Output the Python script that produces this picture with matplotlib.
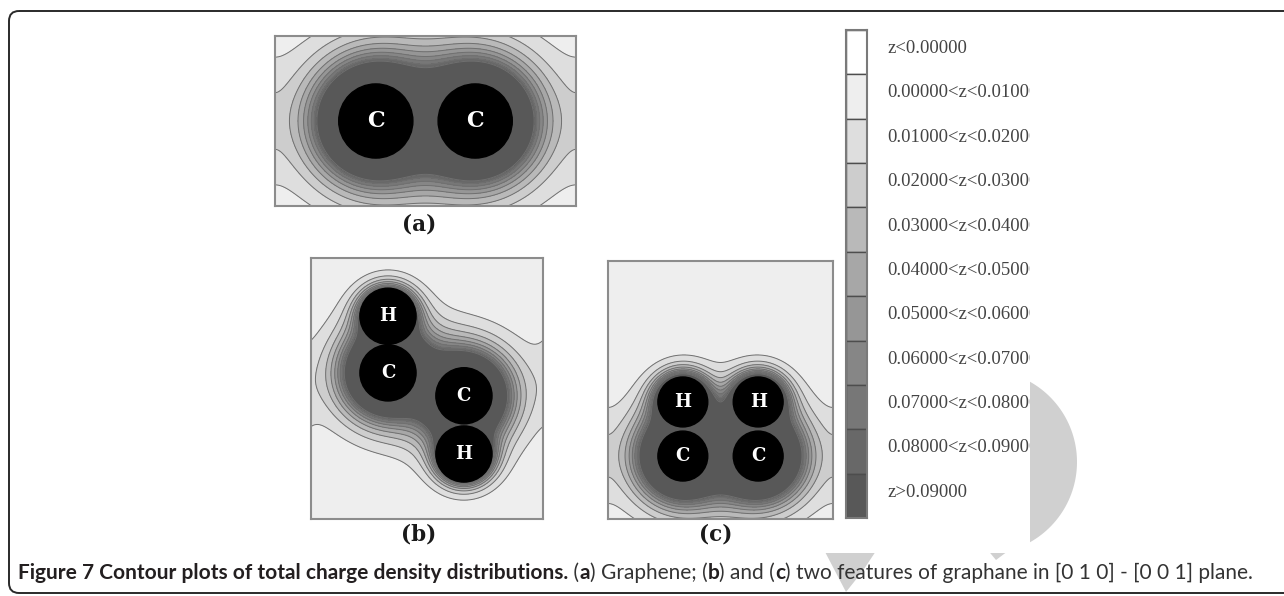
import numpy as np
import matplotlib.pyplot as plt
from matplotlib import font_manager
from matplotlib.patches import FancyBboxPatch, Rectangle, Circle, Polygon
from matplotlib.transforms import blended_transform_factory

W, H = 1284, 596
DPI = 100

# charge density bands (lower edges of the filled bands above the first)
band_levels = [0.00, 0.01, 0.02, 0.03, 0.04, 0.05, 0.06, 0.07, 0.08, 0.09]
band_labels = ["z<0.00000", "0.00000<z<0.01000", "0.01000<z<0.02000",
               "0.02000<z<0.03000", "0.03000<z<0.04000", "0.04000<z<0.05000",
               "0.05000<z<0.06000", "0.06000<z<0.07000", "0.07000<z<0.08000",
               "0.08000<z<0.09000", "z>0.09000"]
band_grays = ["#ffffff", "#eeeeee", "#dedede", "#cdcdcd", "#b9b9b9", "#a7a7a7",
              "#969696", "#868686", "#777777", "#686868", "#585858"]

# atom positions (angstrom) inside each periodic cell
graphene_x = [1.44, 2.86]
graphene_y = [1.215, 1.215]
graphene_el = ["C", "C"]
graphene_cell = (4.30, 2.43)

graphane_b_x = [1.48, 1.48, 2.94, 2.94]
graphane_b_y = [3.90, 2.81, 2.37, 1.25]
graphane_b_el = ["H", "C", "C", "H"]
graphane_b_cell = (4.46, 5.02)

graphane_c_x = [1.44, 2.89, 1.44, 2.89]
graphane_c_y = [2.25, 2.25, 1.21, 1.21]
graphane_c_el = ["H", "H", "C", "C"]
graphane_c_cell = (4.33, 4.96)

# radial density model: amplitude, decay length (angstrom)
ELEMENT = {"C": (1.45, 0.30), "H": (3.0, 0.15)}


def px_axes(fig, x0, y0, x1, y1, **kw):
    return fig.add_axes([x0 / W, 1 - y1 / H, (x1 - x0) / W, (y1 - y0) / H], **kw)


def draw_panel(ax, xs, ys, els, cell, radius, fs):
    wx, wy = cell
    X, Y = np.meshgrid(np.linspace(0, wx, 500), np.linspace(0, wy, 500))
    rho = np.zeros_like(X)
    for x0, y0, el in zip(xs, ys, els):
        amp, lam = ELEMENT[el]
        for shift in (-wx, 0.0, wx):
            rho += amp * np.exp(-np.hypot(X - x0 - shift, Y - y0) / lam)
    ax.contourf(X, Y, rho, levels=[-1.0] + band_levels + [1e3], colors=band_grays)
    ax.contour(X, Y, rho, levels=band_levels[1:], colors="#707070", linewidths=0.7)
    for x0, y0, el in zip(xs, ys, els):
        ax.add_patch(Circle((x0, y0), radius, color="black", zorder=3))
        ax.text(x0, y0, el, color="white", ha="center", va="center", fontsize=fs,
                fontweight="bold", family="DejaVu Serif", zorder=4)
    ax.set_xlim(0, wx)
    ax.set_ylim(0, wy)
    ax.set_xticks([])
    ax.set_yticks([])
    for s in ax.spines.values():
        s.set_color("#8c8c8c")
        s.set_linewidth(1.5)


fig = plt.figure(figsize=(W / DPI, H / DPI), dpi=DPI)

# background layer: watermark, figure backdrop and rounded frame (pixel coords)
bg = fig.add_axes([0, 0, 1, 1], zorder=0)
bg.set_xlim(0, W)
bg.set_ylim(H, 0)
bg.axis("off")
mark = "#d0d0d0"
t = np.linspace(-1.1, 1.1, 60)
arc = np.column_stack([985 + 92 * np.cos(t), 462 + 92 * np.sin(t)])
bg.add_patch(Polygon(arc, closed=True, color=mark, lw=0))
bg.add_patch(Polygon([(823, 548), (878, 548), (862, 572), (846, 592)], closed=True,
                     color=mark, lw=0))
bg.add_patch(Polygon([(986, 548), (1012, 548), (996, 560)], closed=True, color=mark, lw=0))
bg.add_patch(Rectangle((200, 20), 830, 533, color="white", lw=0))
bg.add_patch(FancyBboxPatch((9, 11), 1400, 582, boxstyle="round,pad=0,rounding_size=10",
                            fc="none", ec="#2a2a2a", lw=1.4))

ax_a = px_axes(fig, 275, 36, 576, 206, zorder=1)
draw_panel(ax_a, graphene_x, graphene_y, graphene_el, graphene_cell, 0.53, 16)
ax_b = px_axes(fig, 311, 258, 543, 519, zorder=1)
draw_panel(ax_b, graphane_b_x, graphane_b_y, graphane_b_el, graphane_b_cell, 0.54, 13)
ax_c = px_axes(fig, 608, 261, 833, 519, zorder=1)
draw_panel(ax_c, graphane_c_x, graphane_c_y, graphane_c_el, graphane_c_cell, 0.48, 13)

label_style = dict(ha="center", va="center", fontsize=15.5, fontweight="bold",
                   family="DejaVu Serif", color="#1a1a1a")
fig.text(419 / W, 1 - 225 / H, "(a)", **label_style)
fig.text(419 / W, 1 - 535 / H, "(b)", **label_style)
fig.text(716 / W, 1 - 535 / H, "(c)", **label_style)

# legend bar
n = len(band_labels)
ax_cb = px_axes(fig, 846, 30, 867, 518, zorder=1)
ax_cb.bar(np.zeros(n), np.ones(n), bottom=np.arange(n)[::-1], width=1.0,
          color=band_grays, edgecolor="#4d4d4d", linewidth=1.0, align="center")
ax_cb.set_xlim(-0.5, 0.5)
ax_cb.set_ylim(0, n)
ax_cb.set_xticks([])
ax_cb.set_yticks([])
for s in ax_cb.spines.values():
    s.set_color("#7a7a7a")
    s.set_linewidth(1.5)

ax_txt = px_axes(fig, 846, 30, 1030, 518, zorder=1)
ax_txt.set_ylim(0, n)
ax_txt.axis("off")
tr = blended_transform_factory(ax_txt.transAxes, ax_txt.transData)
for i, lab in enumerate(band_labels):
    ax_txt.text((887 - 846) / (1030 - 846), n - i - 0.42, lab, transform=tr,
                ha="left", va="center", fontsize=13.5, family="Liberation Serif",
                color="#444444", clip_on=True)

# caption, drawn piece by piece and fitted to the frame width
names = {f.name for f in font_manager.fontManager.ttflist}
cap_font = "Liberation Sans Narrow" if "Liberation Sans Narrow" in names else "Lato"
pieces = [("Figure 7 Contour plots of total charge density distributions.", "bold"),
          (" (", "normal"), ("a", "bold"), (") Graphene; (", "normal"), ("b", "bold"),
          (") and (", "normal"), ("c", "bold"),
          (") two features of graphane in [0 1 0] - [0 0 1] plane.", "normal")]
renderer = fig.canvas.get_renderer()


def caption_width(size):
    total = 0.0
    for txt, wt in pieces:
        tt = fig.text(0, 0, txt, fontsize=size, fontweight=wt, family=cap_font)
        total += tt.get_window_extent(renderer).width
        tt.remove()
    return total


size = 14 * 1240 / caption_width(14)
x = 18.0
for txt, wt in pieces:
    tt = fig.text(x / W, 1 - 573 / H, txt, fontsize=size, fontweight=wt, family=cap_font,
                  va="center", ha="left", color="#231f20" if wt == "bold" else "#333333",
                  zorder=5)
    x += tt.get_window_extent(renderer).width

fig.savefig("out.png", dpi=DPI)
